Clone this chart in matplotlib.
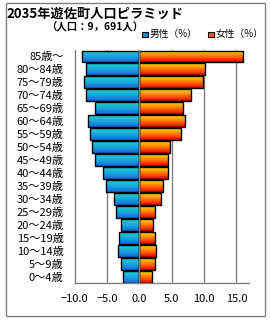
import numpy as np
import matplotlib
matplotlib.use("Agg")
import matplotlib.pyplot as plt
from matplotlib.patches import Rectangle
from matplotlib.colors import LinearSegmentedColormap

plt.rcParams['font.family'] = ['Noto Sans CJK JP', 'DejaVu Sans']

categories = ["0～4歳", "5～9歳", "10～14歳", "15～19歳", "20～24歳", "25～29歳",
              "30～34歳", "35～39歳", "40～44歳", "45～49歳", "50～54歳", "55～59歳",
              "60～64歳", "65～69歳", "70～74歳", "75～79歳", "80～84歳", "85歳～"]
male = [-2.5, -2.8, -3.3, -3.1, -2.8, -3.6, -4.0, -5.1, -5.6, -6.8, -7.3, -7.6,
        -7.9, -6.8, -8.2, -8.5, -8.2, -8.8]
female = [1.9, 2.4, 2.5, 2.4, 2.1, 2.4, 3.3, 3.7, 4.5, 4.5, 4.8, 6.4,
          7.0, 6.8, 8.0, 9.8, 10.2, 16.0]
xticks = [-10, -5, 0, 5, 10, 15]

W, H = 270, 320
fig = plt.figure(figsize=(W / 100, H / 100), dpi=100)
ax = fig.add_axes([74.7 / W, 1 - 283.3 / H, (249.3 - 74.7) / W, (283.3 - 50) / H])

male_cmap = LinearSegmentedColormap.from_list("m", ["#1468d8", "#18a8dc", "#20d0d0"])
fem_cmap = LinearSegmentedColormap.from_list("f", ["#d80000", "#ff5000", "#ff9a00", "#ffe000"])
grad = np.linspace(0, 1, 64).reshape(-1, 1)

y = np.arange(len(categories))
h = 0.92
for vals, cmap in ((male, male_cmap), (female, fem_cmap)):
    bars = ax.barh(y, vals, height=h, facecolor='none', edgecolor='black',
                   linewidth=1.0, zorder=3)
    for b in bars:
        x0, yb = b.get_x(), b.get_y()
        bw, bh = b.get_width(), b.get_height()
        im = ax.imshow(grad, cmap=cmap, aspect='auto', origin='lower',
                       extent=[x0, x0 + bw, yb, yb + bh], zorder=2,
                       interpolation='bilinear')
        im.set_clip_path(b)

ax.set_xlim(-10, 17)
ax.set_ylim(-0.5, len(categories) - 0.5)
for xv in xticks[1:]:
    ax.axvline(xv, color='#808080', linewidth=1.0, zorder=1 if xv != 0 else 4)
ax.set_xticks(xticks)
ax.set_xticklabels([f"{v:.1f}".replace("-", "−") for v in xticks], fontsize=8)
ax.set_yticks(y)
ax.set_yticklabels(categories, fontsize=8)
ax.tick_params(axis='both', length=0)
ax.tick_params(axis='x', pad=8)
ax.tick_params(axis='y', pad=8)
for s in ('top', 'right'):
    ax.spines[s].set_visible(False)
for s in ('left', 'bottom'):
    ax.spines[s].set_color('#808080')
    ax.spines[s].set_linewidth(1.0)

# Frame
fig.patches.append(Rectangle((5.5 / W, 1 - 316 / H), 259 / W, 313 / H,
                             transform=fig.transFigure, fill=False,
                             edgecolor='#808080', linewidth=1.0))

fig.text(6 / W, 1 - 14 / H, "2035年遊佐町人口ピラミッド", fontsize=9.5,
         fontweight='bold', ha='left', va='center')
fig.text(46 / W, 1 - 27 / H, "（人口：9，691人）", fontsize=7.5,
         fontweight='bold', ha='left', va='center')

# Legend
for lx, col, lab in ((141.5, '#1890d8', "男性（%）"), (207.5, '#ff5a00', "女性（%）")):
    fig.patches.append(Rectangle((lx / W, 1 - 36.5 / H), 6 / W, 5 / H,
                                 transform=fig.transFigure, facecolor=col,
                                 edgecolor='black', linewidth=0.8))
    fig.text((lx + 8.5) / W, 1 - 33.5 / H, lab, fontsize=7, ha='left', va='center')

fig.savefig("out.png", dpi=100)
